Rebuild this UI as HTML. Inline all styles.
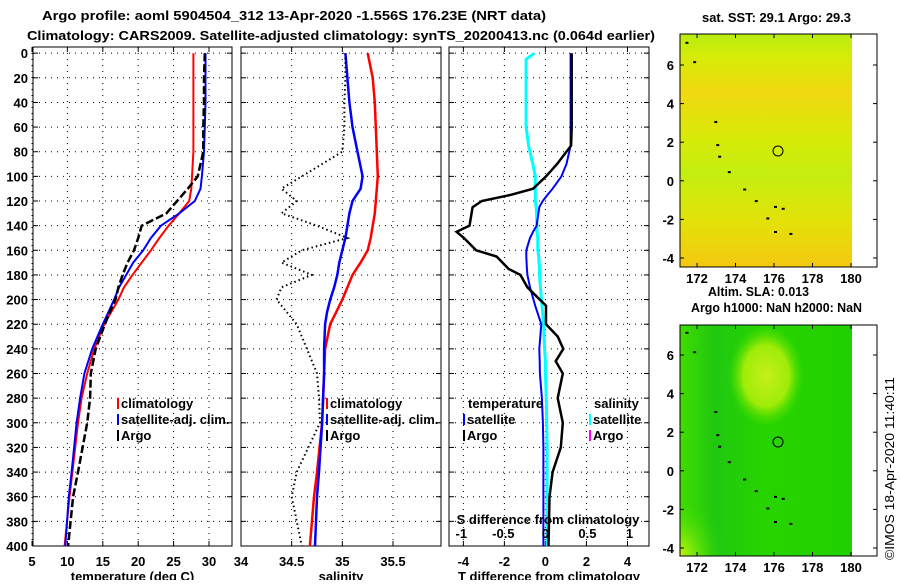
<!DOCTYPE html>
<html><head><meta charset="utf-8"><style>
body{margin:0;background:#fff;width:900px;height:580px;overflow:hidden;font-family:"Liberation Sans",sans-serif}
svg text{font-family:"Liberation Sans",sans-serif;font-weight:bold;font-size:13px;fill:#000}
</style></head><body>
<svg id="c" width="900" height="580" xmlns="http://www.w3.org/2000/svg">
<defs>
<linearGradient id="g1" x1="0" y1="0" x2="0" y2="1">
<stop offset="0" stop-color="#b8ec10"/><stop offset="0.1" stop-color="#d6ec08"/><stop offset="0.25" stop-color="#f0d810"/><stop offset="0.45" stop-color="#d8ea08"/><stop offset="0.6" stop-color="#c4ee10"/><stop offset="0.8" stop-color="#e2e208"/><stop offset="1" stop-color="#f4c810"/></linearGradient>
<radialGradient id="g2" cx="0.5" cy="0.22" r="0.22"><stop offset="0" stop-color="#c4f018"/><stop offset="0.6" stop-color="#a0ec08"/><stop offset="1" stop-color="#50e000" stop-opacity="0"/></radialGradient>
<radialGradient id="g3" cx="0" cy="1" r="0.25"><stop offset="0" stop-color="#c8f410"/><stop offset="1" stop-color="#30dc00" stop-opacity="0"/></radialGradient>
<linearGradient id="g4" x1="0" y1="0" x2="1" y2="0"><stop offset="0" stop-color="#40dc00"/><stop offset="0.2" stop-color="#20c810"/><stop offset="0.5" stop-color="#28d400"/><stop offset="1" stop-color="#20d000"/></linearGradient>
</defs>
<text x="42" y="20" font-size="15" textLength="504" lengthAdjust="spacingAndGlyphs">Argo profile: aoml 5904504_312 13-Apr-2020 -1.556S 176.23E (NRT data)</text>
<text x="27" y="40" font-size="15" textLength="628" lengthAdjust="spacingAndGlyphs">Climatology: CARS2009. Satellite-adjusted climatology: synTS_20200413.nc (0.064d earlier)</text>
<g id="panels"></g>
<g>
<text x="702" y="22" textLength="149" lengthAdjust="spacingAndGlyphs">sat. SST: 29.1 Argo: 29.3</text>
<rect x="680" y="34" width="172" height="233" fill="url(#g1)"/>
<rect x="680" y="34" width="197" height="233" fill="none" stroke="#000"/>
<circle cx="778" cy="151" r="5" fill="none" stroke="#000"/>
</g>
<g>
<text x="708" y="296" textLength="101" lengthAdjust="spacingAndGlyphs">Altim. SLA: 0.013</text>
<text x="691" y="312" textLength="171" lengthAdjust="spacingAndGlyphs">Argo h1000: NaN h2000: NaN</text>
<rect x="680" y="325" width="172" height="231" fill="url(#g4)"/>
<rect x="680" y="325" width="172" height="231" fill="url(#g2)"/>
<rect x="680" y="325" width="172" height="231" fill="url(#g3)"/>
<rect x="680" y="325" width="197" height="231" fill="none" stroke="#000"/>
<circle cx="778" cy="442" r="5" fill="none" stroke="#000"/>
</g>
<text transform="translate(894,560) rotate(-90)" style="font-weight:normal" font-size="12" textLength="183" lengthAdjust="spacingAndGlyphs">©IMOS 18-Apr-2020 11:40:11</text>
<g id="maps-axes"></g>
</svg>
<script>
const depths=[0,20,40,60,80,100,110,120,130,140,150,160,170,180,190,200,210,220,240,260,280,300,340,360,400];
const tClim=[27.8,27.8,27.8,27.8,27.8,27.6,27.5,27.2,25.8,24.3,23,21.8,20.5,19.2,18,17.2,16.2,15.2,13.8,12.8,12,11.5,10.7,10.3,9.6];
const tSat=[29.5,29.5,29.5,29.4,29.3,29,28.8,28,25.8,23.2,21.8,20.7,19.3,18.3,17.3,16.6,15.8,15,13.5,12.4,11.8,11.3,10.6,10.2,9.7];
const tArgo=[29.4,29.3,29.3,29.2,29.2,28.4,27,25.5,24,20.5,20,19.4,18.5,17.8,17.2,16.8,16,15.3,14,13.3,13.2,12.8,11.5,10.8,10.1];
const sClim=[35.25,35.3,35.32,35.33,35.34,35.35,35.34,35.33,35.32,35.3,35.28,35.25,35.18,35.1,35.05,35,34.94,34.88,34.83,34.82,34.81,34.8,34.75,34.72,34.68];
const sSat=[35.03,35.05,35.07,35.1,35.15,35.2,35.18,35.1,35.07,35.05,35.03,35,34.97,34.95,34.92,34.88,34.85,34.83,34.82,34.82,34.81,34.8,34.77,34.75,34.73];
const sArgo=[35.03,35.03,35.02,35.02,35,34.6,34.4,34.55,34.4,34.75,35.05,34.6,34.4,34.7,34.4,34.35,34.45,34.55,34.65,34.75,34.77,34.78,34.55,34.5,34.6];
const depthsD=[0,5,60,75,90,100,110,115,120,125,140,145,150,160,165,175,180,190,205,220,230,240,250,260,280,300,320,340,360,400];
const dtSat=[1.23,1.23,1.23,1.23,1.03,0.78,0.35,0.1,-0.13,-0.3,-0.43,-0.6,-0.75,-0.93,-0.93,-0.9,-0.88,-0.75,-0.5,-0.2,-0.25,-0.3,-0.28,-0.27,-0.17,-0.12,-0.1,-0.1,-0.1,-0.1];
const dtArgo=[1.28,1.28,1.28,1.25,0.57,0.03,-0.6,-1.7,-3.1,-3.55,-3.7,-4.33,-3.97,-3.38,-2.38,-1.8,-1.22,-0.88,0.03,0.03,0.6,0.87,0.5,0.85,0.6,0.85,0.75,0.35,0.2,0.15];
const dsSat=[-0.13,-0.23,-0.23,-0.2,-0.15,-0.12,-0.12,-0.12,-0.12,-0.11,-0.1,-0.1,-0.09,-0.09,-0.08,-0.07,-0.07,-0.06,-0.04,-0.02,-0.015,-0.01,0,0,0.01,0.015,0.02,0.02,0.02,0.02];
const depthTicks=[0,20,40,60,80,100,120,140,160,180,200,220,240,260,280,300,320,340,360,380,400];
const tTicks=[5,10,15,20,25,30];
const sTicks=[34,34.5,35,35.5];
const dtTicks=[-4,-2,0,2,4];
const dsTicks=[-1,-0.5,0,0.5,1];
const lonTicks=[172,174,176,178,180];
const lat1Ticks=[6,4,2,0,-2,-4];
const NS="http://www.w3.org/2000/svg";
const P=document.getElementById('panels');
function el(t,a,p){const e=document.createElementNS(NS,t);for(const k in a)e.setAttribute(k,a[k]);(p||P).appendChild(e);return e;}
const Y0=47,Y1=546;
const yS=d=>Y0+(d+5)/405*(Y1-Y0);
function lin(d0,d1,r0,r1){return v=>r0+(v-d0)/(d1-d0)*(r1-r0);}
const panels=[{x0:33,x1:232,xs:lin(5,30,32,209),ticks:tTicks,lab:'temperature (deg C)',name:'temperature-panel'},
{x0:241,x1:441,xs:lin(34,35.5,241,393),ticks:sTicks,lab:'salinity',name:'salinity-panel'},
{x0:449,x1:649,xs:lin(-4.7,5.05,449,649),ticks:dtTicks,lab:'T difference from climatology',name:'difference-panel'}];
panels.forEach((p,i)=>{
 const g=el('g',{});
 
 
 depthTicks.forEach(d=>{const y=yS(d);
  el('line',{x1:p.x0,x2:p.x1,y1:y,y2:y,stroke:'#000','stroke-dasharray':'1 5'},g);
  el('line',{x1:p.x0,x2:p.x0+5,y1:y,y2:y,stroke:'#000'},g);el('line',{x1:p.x1-5,x2:p.x1,y1:y,y2:y,stroke:'#000'},g);
  if(i==0){const t=el('text',{x:28,y:y+5,'text-anchor':'end'},g);t.textContent=d;}});
 p.ticks.forEach(v=>{const x=p.xs(v);
  el('line',{x1:x,x2:x,y1:Y0,y2:Y1,stroke:'#000','stroke-dasharray':'1 5'},g);
  el('line',{x1:x,x2:x,y1:Y1-5,y2:Y1,stroke:'#000'},g);el('line',{x1:x,x2:x,y1:Y0,y2:Y0+5,stroke:'#000'},g);
  const t=el('text',{x:x,y:566,'text-anchor':'middle'},g);t.textContent=v;});
 el('rect',{x:p.x0,y:Y0,width:p.x1-p.x0,height:Y1-Y0,fill:'none',stroke:'#000'},g);
 const t=el('text',{x:(p.x0+p.x1)/2,y:581,'text-anchor':'middle'},g);t.textContent=p.lab;
});
function line(vals,xs,col,w,dash,name,dd){
 dd=dd||depths;
 const pts=vals.map((v,i)=>xs(v).toFixed(1)+','+yS(dd[i]).toFixed(1)).join(' ');
 const e=el('polyline',{points:pts,fill:'none',stroke:col,'stroke-width':w});
 if(dash)e.setAttribute('stroke-dasharray',dash);
 
 
}
const [pT,pS,pD]=panels;
line(tClim,pT.xs,'#f00',2,null,'temp-climatology-line');
line(tSat,pT.xs,'#00f',2,null,'temp-satellite-line');
line(tArgo,pT.xs,'#000',2.5,'8 3','temp-argo-line');
line(sClim,pS.xs,'#f00',2.5,null,'sal-climatology-line');
line(sSat,pS.xs,'#00f',2.5,null,'sal-satellite-line');
line(sArgo,pS.xs,'#000',2,'1.5 3','sal-argo-line');
const dsx=v=>pD.xs(v*4.1);
line(dsSat,dsx,'#0ff',3,null,'sdiff-satellite-line',depthsD);
line(dtSat,pD.xs,'#00f',2,null,'tdiff-satellite-line',depthsD);
line(dtArgo,pD.xs,'#000',2.5,null,'tdiff-argo-line',depthsD);
dsTicks.forEach(v=>{const t=el('text',{x:dsx(v),y:538,'text-anchor':'middle'});t.textContent=v;});
el('text',{x:548,y:524,'text-anchor':'middle'}).textContent='S difference from climatology';
function leg(x,y,col,txt,name){const g=el('g',{});
 if(col)el('rect',{x:x,y:y-10,width:2,height:11,fill:col},g);
 const t=el('text',{x:x+(col?4:0),y:y},g);t.textContent=txt;}
leg(117,408,'#f00','climatology','legend-climatology');leg(117,424,'#00f','satellite-adj. clim.','legend-satellite');leg(117,440,'#000','Argo','legend-argo');
leg(326,408,'#f00','climatology','legend-sal-climatology');leg(326,424,'#00f','satellite-adj. clim.','legend-sal-satellite');leg(326,440,'#000','Argo','legend-sal-argo');
leg(468,408,null,'temperature','legend-temperature');leg(463,424,'#00f','satellite','legend-t-satellite');leg(463,440,'#000','Argo','legend-t-argo');
leg(594,408,null,'salinity','legend-salinity');leg(589,424,'#0ff','satellite','legend-s-satellite');leg(589,440,'#f0f','Argo','legend-s-argo');
const MA=document.getElementById('maps-axes');
const lx=lin(172,180,697,851);
[[34,267,65,258],[325,556,355,548]].forEach(([t,b,y6,ym4],k)=>{
 const ly=lin(6,-4,y6,ym4);
 lonTicks.forEach(v=>{const x=lx(v);el('line',{x1:x,x2:x,y1:t,y2:t+4,stroke:'#000'},MA);el('line',{x1:x,x2:x,y1:b-4,y2:b,stroke:'#000'},MA);
  const tx=el('text',{x:x,y:b+16,'text-anchor':'middle'},MA);tx.textContent=v;});
 lat1Ticks.forEach(v=>{const y=ly(v);el('line',{x1:680,x2:684,y1:y,y2:y,stroke:'#000'},MA);el('line',{x1:873,x2:877,y1:y,y2:y,stroke:'#000'},MA);
  const tx=el('text',{x:674,y:y+5,'text-anchor':'end'},MA);tx.textContent=v;});
 [[172.9,3.1],[173,1.9],[173.1,1.3],[173.6,0.5],[174.4,-0.4],[175,-1],[175.6,-1.9],[176,-1.3],[176.4,-1.4],[176,-2.6],[176.8,-2.7],[171.4,7.2],[171.8,6.2]].forEach(([lo,la])=>el('rect',{x:lx(lo),y:ly(la),width:3,height:2,fill:'#000'},MA));
});
</script>
</body></html>
